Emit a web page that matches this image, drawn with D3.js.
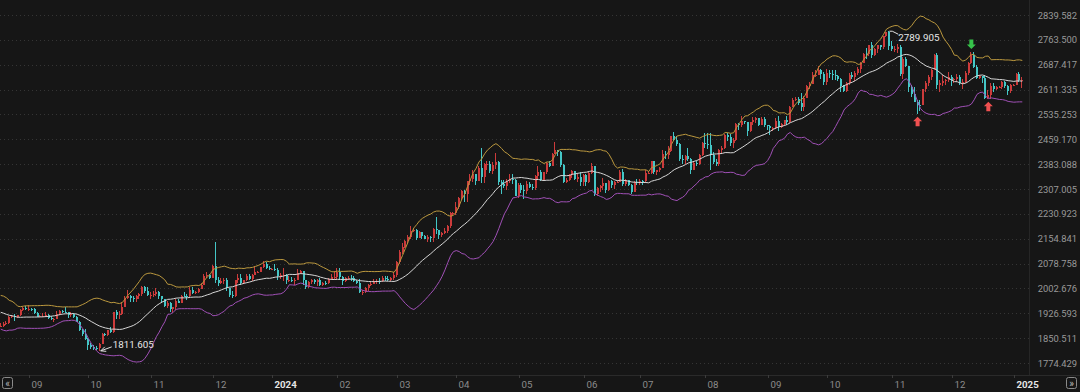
<!DOCTYPE html>
<html><head><meta charset="utf-8">
<script src="https://cdn.jsdelivr.net/npm/d3@7/dist/d3.min.js"></script>
<style>html,body{margin:0;padding:0;background:#161616;overflow:hidden}svg{display:block}</style>
</head><body><svg id="c" width="1080" height="392"></svg>
<script>
// ---- data (XAU daily, weekdays from 2023-08-18) ----
const startDate = "2023-08-18";
const warmupCloses = [1954,1965,1972,1946,1959,1965,1944,1934,1933,1942,1936,1925,1915,1913,1914,1907,1901,1892,1889];
const closes = [
1889,1895,1898,1915,1917,1914,1920,1937,1942,1940,
1940,1939,1926,1916,1919,1919,1922,1913,1908,1910,1924,1934,1931,1930,1920,1925,1916,1901,1875,1864,1849,
1828,1822,1821,1820,1833,1862,1861,1874,1868,1932,1920,1923,1947,1974,1981,1973,1971,1979,1985,2006,1996,1983,
1983,1985,1992,1978,1969,1950,1958,1940,1946,1963,1959,1981,1980,1978,1999,1990,1992,2002,2014,2041,2044,2036,
2072,2029,2019,2025,2028,2004,1982,1979,2027,2036,2019,2027,2040,2031,2045,2053,2054,2067,2077,2065,2063,
2063,2058,2042,2043,2045,2028,2030,2024,2029,2049,2055,2028,2006,2023,2029,2021,2029,2014,2020,2018,2032,2037,2039,
2054,2039,2025,2035,2035,2034,2024,2020,1992,1992,2004,2013,2017,2024,2026,2024,2036,2031,2030,2034,2044,
2083,2114,2128,2148,2159,2179,2182,2158,2175,2162,2155,2160,2157,2186,2181,2166,2172,2178,2194,2233,2233,
2251,2280,2300,2291,2330,2339,2352,2333,2372,2344,2383,2383,2361,2379,2391,2327,2322,2316,2332,2337,2335,2286,
2320,2303,2301,2323,2314,2309,2346,2360,2336,2358,2386,2376,2415,2425,2421,2379,2329,2334,2350,2361,2338,2343,2327,
2350,2327,2355,2376,2293,2311,2316,2324,2303,2333,2319,2329,2329,2360,2322,2334,2320,2298,2327,2326,
2332,2330,2356,2356,2392,2358,2364,2372,2415,2411,2422,2469,2458,2445,2400,2396,2409,2398,2364,2387,2384,2411,2448,
2446,2443,2410,2390,2382,2427,2431,2472,2465,2447,2456,2507,2504,2514,2512,2484,2512,2518,2524,2504,2521,2503,
2500,2493,2495,2516,2497,2506,2517,2512,2558,2578,2582,2570,2559,2587,2622,2628,2657,2657,2672,2658,2634,
2663,2658,2656,2653,2644,2622,2608,2630,2657,2649,2662,2674,2693,2721,2720,2748,2716,2736,2747,2743,2774,2788,2744,
2736,2736,2743,2659,2706,2685,2618,2598,2573,2565,2563,2612,2631,2651,2670,2716,2625,2632,2638,2640,2650,
2640,2643,2650,2632,2633,2661,2694,2718,2681,2648,2652,2646,2586,2594,2622,2613,2618,2619,2634,2621,2606,2624,
2625,2658,2640,2642];
const highs = [
1896,1899,1903,1918,1922,1923,1922,1939,1946,1949,
1953,1943,1942,1929,1921,1927,1930,1925,1917,1913,1933,1937,1937,1947,1931,1932,1925,1917,1903,1880,1880,
1850,1835,1829,1825,1835,1866,1867,1875,1885,1932,1936,1933,1962,1978,1997,1982,1980,1983,1989,2009,2009,2008,
1992,1996,2004,1994,1980,1970,1965,1960,1947,1971,1969,1984,1993,1987,2007,2008,1996,2004,2018,2048,2052,2048,
2075,2146,2037,2036,2034,2036,2005,1995,2030,2048,2047,2030,2046,2047,2048,2070,2056,2069,2088,2084,2072,
2065,2078,2065,2051,2064,2046,2041,2038,2035,2062,2058,2056,2029,2025,2032,2033,2032,2036,2022,2025,2036,2048,2056,
2065,2064,2040,2039,2040,2043,2040,2030,2031,1997,2006,2016,2023,2031,2031,2035,2041,2040,2040,2038,2052,
2088,2119,2141,2152,2165,2195,2189,2184,2178,2175,2167,2165,2162,2187,2222,2181,2175,2187,2196,2236,2236,
2266,2283,2305,2305,2330,2354,2365,2354,2378,2431,2387,2393,2393,2389,2417,2392,2336,2336,2339,2352,2353,2337,
2326,2326,2319,2331,2329,2322,2351,2378,2366,2360,2391,2394,2417,2450,2427,2422,2385,2340,2353,2364,2361,2352,2360,
2354,2354,2360,2387,2378,2314,2318,2342,2326,2335,2334,2331,2336,2365,2368,2338,2335,2321,2331,2339,
2339,2335,2365,2363,2393,2392,2366,2375,2425,2424,2440,2470,2483,2469,2448,2412,2412,2431,2403,2389,2393,2413,2451,
2477,2478,2477,2420,2400,2430,2439,2476,2478,2474,2464,2509,2510,2531,2514,2512,2513,2527,2528,2525,2528,2526,
2503,2502,2498,2524,2529,2508,2518,2529,2561,2585,2590,2589,2600,2592,2625,2633,2664,2670,2685,2674,2665,
2673,2672,2670,2672,2657,2646,2625,2634,2661,2666,2667,2679,2696,2722,2740,2749,2758,2740,2749,2749,2775,2789,2789.905,
2759,2745,2750,2749,2711,2710,2685,2626,2618,2578,2578,2614,2639,2656,2674,2721,2722,2641,2657,2645,2666,
2657,2648,2658,2657,2645,2668,2696,2726,2726,2688,2656,2654,2655,2610,2632,2630,2622,2621,2638,2637,2626,2627,
2627,2661,2665,2650];
const lows = [
1884,1884,1890,1895,1911,1904,1912,1918,1933,1937,
1935,1935,1924,1915,1914,1915,1915,1908,1906,1901,1910,1922,1928,1928,1913,1915,1913,1899,1873,1857,1846,
1815,1817,1815,1813,1811.605,1833,1856,1857,1866,1867,1910,1908,1922,1945,1971,1960,1962,1962,1971,1978,1989,1981,
1970,1976,1980,1970,1959,1947,1944,1932,1931,1938,1957,1957,1977,1966,1977,1987,1986,1990,2001,2012,2036,2031,
2034,2018,2009,2015,2017,1996,1975,1973,1977,2020,2014,2016,2024,2028,2025,2045,2050,2052,2065,2061,2058,
2060,2056,2030,2033,2024,2016,2022,2021,2013,2030,2047,2014,2001,2004,2015,2016,2011,2011,2009,2012,2015,2029,2030,
2033,2030,2014,2021,2028,2025,2022,2015,1990,1984,1990,1995,2011,2015,2017,2017,2022,2025,2025,2025,2030,
2039,2076,2109,2126,2143,2154,2174,2150,2156,2155,2153,2146,2146,2146,2168,2155,2160,2170,2173,2187,2227,
2228,2245,2272,2268,2266,2319,2327,2319,2331,2326,2325,2365,2356,2353,2369,2320,2291,2310,2304,2325,2323,2285,
2280,2295,2277,2291,2310,2303,2305,2336,2333,2335,2352,2374,2376,2413,2407,2374,2326,2325,2333,2340,2334,2328,2316,
2315,2316,2326,2352,2287,2287,2298,2303,2296,2300,2310,2306,2324,2328,2316,2316,2316,2293,2297,2319,
2318,2318,2328,2352,2353,2353,2351,2360,2371,2400,2400,2421,2453,2439,2393,2383,2384,2394,2353,2365,2377,2379,2407,
2432,2430,2364,2384,2378,2378,2413,2428,2455,2440,2431,2454,2488,2496,2506,2470,2481,2504,2509,2499,2502,2497,
2489,2472,2486,2490,2486,2493,2500,2503,2509,2557,2576,2565,2546,2547,2586,2614,2628,2651,2655,2644,2625,
2624,2646,2640,2641,2637,2605,2605,2603,2625,2644,2639,2657,2662,2692,2704,2713,2708,2714,2723,2731,2735,2772,2731,
2729,2727,2724,2652,2643,2681,2603,2589,2572,2537,2545,2564,2605,2623,2641,2671,2612,2605,2621,2626,2634,
2622,2631,2633,2626,2613,2632,2657,2690,2676,2643,2643,2632,2583,2583,2584,2603,2611,2615,2614,2616,2596,2602,
2621,2624,2636,2615];
const yTickLabels = ["2839.582","2763.500","2687.417","2611.335","2535.253","2459.170","2383.088","2307.005","2230.923","2154.841","2078.758","2002.676","1926.593","1850.511","1774.429"];
const monthLabels = ["09","10","11","12","2024","02","03","04","05","06","07","08","09","10","11","12","2025"];
const buySignals = ["2024-11-14","2024-12-19"];
const sellSignals = ["2024-12-11"];
const bollPeriod = 20, bollK = 2;

// ---- setup ----
const W = 1080, H = 392, plotRight = 1029, axisTop = 375;
const svg = d3.select("#c");
const n = closes.length;
const parse = d3.utcParse("%Y-%m-%d"), fmt = d3.utcFormat("%Y-%m-%d");
const dates = [];
let dd = parse(startDate);
while (dates.length < n) { const wd = dd.getUTCDay(); if (wd !== 0 && wd !== 6) dates.push(dd); dd = d3.utcDay.offset(dd, 1); }
const opens = closes.map((c, i) => i === 0 ? warmupCloses[warmupCloses.length - 1] : closes[i - 1]);

const x = d3.scaleBand().domain(d3.range(n)).range([-0.7, 1023.7]).padding(0);
const cx = i => x(i) + x.bandwidth() / 2;
const yVals = yTickLabels.map(Number);
const y = d3.scaleLinear().domain([yVals[yVals.length - 1], yVals[0]]).range([363, 15]);

svg.append("rect").attr("width", W).attr("height", H).attr("fill", "#161616");

// grid
const grid = svg.append("g");
grid.selectAll("line").data(yVals).join("line")
  .attr("x1", 0).attr("x2", plotRight).attr("y1", d => Math.round(y(d)) + 0.5).attr("y2", d => Math.round(y(d)) + 0.5)
  .attr("stroke", "#353535").attr("stroke-dasharray", "1,3");
svg.append("line").attr("x1", plotRight + 0.5).attr("x2", plotRight + 0.5).attr("y1", 0).attr("y2", axisTop)
  .attr("stroke", "#262626");
svg.append("line").attr("x1", 0).attr("x2", W).attr("y1", axisTop + 0.5).attr("y2", axisTop + 0.5).attr("stroke", "#2a2a2a");

// clip
svg.append("clipPath").attr("id", "pc").append("rect").attr("x", 0).attr("y", 0).attr("width", plotRight).attr("height", axisTop);
const plot = svg.append("g").attr("clip-path", "url(#pc)");

// candles
const upC = "#cc3b3b", dnC = "#44c6c6";
const cg = plot.append("g").attr("shape-rendering", "crispEdges");
const idx = d3.range(n);
cg.selectAll("rect.w").data(idx).join("rect").attr("class", "w")
  .attr("x", i => Math.round(cx(i) - 1))
  .attr("width", 1)
  .attr("y", i => y(Math.max(highs[i], opens[i], closes[i])))
  .attr("height", i => Math.max(1, y(Math.min(lows[i], opens[i], closes[i])) - y(Math.max(highs[i], opens[i], closes[i]))))
  .attr("fill", i => closes[i] >= opens[i] ? upC : dnC);
cg.selectAll("rect.b").data(idx).join("rect").attr("class", "b")
  .attr("x", i => Math.round(cx(i) - 1))
  .attr("width", 2)
  .attr("y", i => y(Math.max(opens[i], closes[i])))
  .attr("height", i => Math.max(1, Math.abs(y(opens[i]) - y(closes[i]))))
  .attr("fill", i => closes[i] >= opens[i] ? upC : dnC);

// bollinger
const all = warmupCloses.concat(closes);
const off = warmupCloses.length - (bollPeriod - 1);
const mid = [], up = [], lo = [];
for (let i = 0; i < n; i++) {
  const win = all.slice(i + off, i + off + bollPeriod);
  const m = d3.mean(win);
  const sd = Math.sqrt(d3.mean(win, v => (v - m) * (v - m)));
  mid.push(m); up.push(m + bollK * sd); lo.push(m - bollK * sd);
}
const line = arr => d3.line().x(i => cx(i)).y(i => y(arr[i]))(idx);
plot.append("path").attr("d", line(up)).attr("fill", "none").attr("stroke", "#bb983e").attr("stroke-width", 1);
plot.append("path").attr("d", line(mid)).attr("fill", "none").attr("stroke", "#d6d6d6").attr("stroke-width", 1);
plot.append("path").attr("d", line(lo)).attr("fill", "none").attr("stroke", "#a050b6").attr("stroke-width", 1);

// annotations: max high / min low
const font = "Roboto, 'Noto Sans', sans-serif";
const fs = 9.4;
const iMax = d3.maxIndex(highs), iMin = d3.minIndex(lows);
const hx = cx(iMax), hy = y(highs[iMax]);
svg.append("path").attr("d", `M${hx},${hy}H${hx + 3}L${hx + 9},${hy + 3}`).attr("fill", "none").attr("stroke", "#e0e0e0").attr("stroke-width", 1);
svg.append("text").attr("x", hx + 9).attr("y", hy + 10).attr("fill", "#e8e8e8").attr("font-family", font).attr("font-size", fs + 0.4).text(d3.format(".3f")(highs[iMax]));
const lx = cx(iMin), ly = y(lows[iMin]);
svg.append("path").attr("d", `M${lx + 12},${ly - 4}L${lx + 1},${ly}`).attr("fill", "none").attr("stroke", "#e0e0e0").attr("stroke-width", 1);
svg.append("path").attr("d", `M${lx + 1},${ly}l4,-4M${lx + 1},${ly}l5.5,0.5`).attr("fill", "none").attr("stroke", "#e0e0e0").attr("stroke-width", 1);
svg.append("text").attr("x", lx + 13).attr("y", ly - 3).attr("fill", "#e8e8e8").attr("font-family", font).attr("font-size", fs + 0.4).text(d3.format(".3f")(lows[iMin]));

// signal arrows
const dIndex = s => dates.findIndex(d => fmt(d) === s);
const arrowUp = (ax, ay) => `M${ax},${ay}l4.5,4.5h-2.5v5h-4v-5h-2.5z`;
const arrowDn = (ax, ay) => `M${ax},${ay}l4.5,-4.5h-2.5v-5h-4v5h-2.5z`;
buySignals.forEach(s => { const i = dIndex(s); if (i < 0) return;
  svg.append("path").attr("d", arrowUp(cx(i), y(lows[i]) + 3)).attr("fill", "#f05050"); });
sellSignals.forEach(s => { const i = dIndex(s); if (i < 0) return;
  svg.append("path").attr("d", arrowDn(cx(i), y(highs[i]) - 3)).attr("fill", "#36c24a"); });

// y labels
svg.append("g").selectAll("text").data(yTickLabels).join("text")
  .attr("x", 1077).attr("y", d => y(+d) + 3.5).attr("text-anchor", "end")
  .attr("fill", "#999").attr("font-family", font).attr("font-size", fs).text(d => d);

// x month ticks
const mIdx = [];
for (let i = 1; i < n; i++) if (dates[i].getUTCMonth() !== dates[i - 1].getUTCMonth()) mIdx.push(i);
const xg = svg.append("g");
mIdx.forEach((i, k) => {
  const tx = Math.round(cx(i)) + 0.5;
  xg.append("line").attr("x1", tx).attr("x2", tx).attr("y1", axisTop).attr("y2", axisTop + 3).attr("stroke", "#3c3c3c");
  const lab = monthLabels[k];
  const isYear = lab.length === 4;
  xg.append("text").attr("x", tx + 2).attr("y", 388).attr("fill", isYear ? "#e6e6e6" : "#8c8c8c")
    .attr("font-weight", isYear ? "bold" : "normal")
    .attr("font-family", font).attr("font-size", fs + 0.3).text(lab);
});

// nav buttons
[[2.5, "«"], [1066.5, "»"]].forEach(([bx, t]) => {
  svg.append("rect").attr("x", bx).attr("y", 377.5).attr("width", 10).attr("height", 11).attr("rx", 2)
    .attr("fill", "none").attr("stroke", "#8a8a8a");
  svg.append("text").attr("x", bx + 5).attr("y", 386.5).attr("text-anchor", "middle").attr("fill", "#bbb")
    .attr("font-family", font).attr("font-size", 10).text(t);
});
</script></body></html>
